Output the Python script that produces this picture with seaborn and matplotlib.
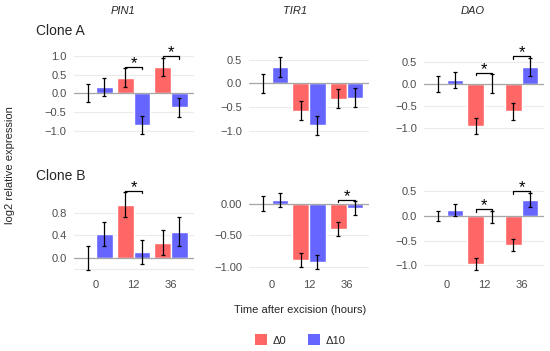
import numpy as np
import pandas as pd
import matplotlib
matplotlib.use("Agg")
import matplotlib.pyplot as plt
import seaborn as sns
from matplotlib.patches import Patch

sns.set_style("white")
plt.rcParams['font.family'] = ['Liberation Sans', 'DejaVu Sans']

# ---- data ----
genes = ['PIN1', 'TIR1', 'DAO']
clones = ['Clone A', 'Clone B']
times = ['0', '12', '36']
lines = ['Δ0', 'Δ10']

# rows: PIN1, TIR1, DAO ; cols: 0, 12, 36 h
clone_a_d0 = [[0.00, 0.42, 0.70], [0.00, -0.58, -0.32], [0.00, -0.95, -0.62]]
clone_a_d10 = [[0.18, -0.86, -0.38], [0.34, -0.88, -0.30], [0.09, 0.01, 0.39]]
clone_a_d0_err = [[0.24, 0.245, 0.25], [0.20, 0.20, 0.20], [0.19, 0.19, 0.19]]
clone_a_d10_err = [[0.24, 0.24, 0.25], [0.21, 0.20, 0.20], [0.19, 0.21, 0.20]]

clone_b_d0 = [[0.00, 0.94, 0.27], [0.00, -0.89, -0.40], [0.00, -0.97, -0.59]]
clone_b_d10 = [[0.42, 0.10, 0.46], [0.06, -0.93, -0.075], [0.13, -0.02, 0.33]]
clone_b_d0_err = [[0.21, 0.22, 0.22], [0.115, 0.115, 0.11], [0.11, 0.12, 0.12]]
clone_b_d10_err = [[0.21, 0.21, 0.26], [0.11, 0.11, 0.11], [0.12, 0.13, 0.14]]

# significant Δ0 vs Δ10 comparisons: (clone, gene, time)
significant = [('Clone A', 'PIN1', '12'), ('Clone A', 'PIN1', '36'),
               ('Clone A', 'DAO', '12'), ('Clone A', 'DAO', '36'),
               ('Clone B', 'PIN1', '12'), ('Clone B', 'TIR1', '36'),
               ('Clone B', 'DAO', '12'), ('Clone B', 'DAO', '36')]

# axis ranges and ticks per panel
ylims = {('Clone A', 'PIN1'): (-1.225, 1.32), ('Clone A', 'TIR1'): (-1.173, 0.83),
         ('Clone A', 'DAO'): (-1.242, 0.903), ('Clone B', 'PIN1'): (-0.272, 1.417),
         ('Clone B', 'TIR1'): (-1.10, 0.408), ('Clone B', 'DAO'): (-1.156, 0.771)}
yticks = {('Clone A', 'PIN1'): [-1.0, -0.5, 0.0, 0.5, 1.0],
          ('Clone A', 'TIR1'): [-1.0, -0.5, 0.0, 0.5],
          ('Clone A', 'DAO'): [-1.0, -0.5, 0.0, 0.5],
          ('Clone B', 'PIN1'): [0.0, 0.4, 0.8],
          ('Clone B', 'TIR1'): [-1.0, -0.5, 0.0],
          ('Clone B', 'DAO'): [-1.0, -0.5, 0.0, 0.5]}
ytick_fmt = {('Clone B', 'TIR1'): '{:.2f}'}

colors = {'Δ0': '#FF6666', 'Δ10': '#6666FF'}

# long-form table
means = {'Clone A': (clone_a_d0, clone_a_d10), 'Clone B': (clone_b_d0, clone_b_d10)}
errs = {'Clone A': (clone_a_d0_err, clone_a_d10_err), 'Clone B': (clone_b_d0_err, clone_b_d10_err)}
rows = []
for clone in clones:
    for li, line in enumerate(lines):
        for gi, gene in enumerate(genes):
            for ti, t in enumerate(times):
                rows.append(dict(clone=clone, gene=gene, line=line, time=t,
                                 value=means[clone][li][gi][ti],
                                 err=errs[clone][li][gi][ti]))
df = pd.DataFrame(rows)

# ---- figure ----
W, H = 550, 351
fig = plt.figure(figsize=(W / 100, H / 100), dpi=100)

col_left = [73.5, 249, 424]
row_top = [44, 178]
pw, ph = 120, 95

tick_color = '#4D4D4D'

for r, clone in enumerate(clones):
    for c, gene in enumerate(genes):
        ax = fig.add_axes([col_left[c] / W, 1 - (row_top[r] + ph) / H, pw / W, ph / H])
        sub = df[(df.clone == clone) & (df.gene == gene)]
        sns.barplot(data=sub, x='time', y='value', hue='line', order=times,
                    hue_order=lines, palette=colors, width=0.9, saturation=1,
                    errorbar=None, legend=False, ax=ax, zorder=2)
        ax.set_xlim(-0.6, 2.6)
        y0, y1 = ylims[(clone, gene)]
        ax.set_ylim(y0, y1)
        px = (y1 - y0) / ph  # data units per pixel

        # error bars from bar centers
        tops = {}
        for li, line in enumerate(lines):
            d = sub[sub.line == line].set_index('time').loc[times]
            xs = [b.get_x() + b.get_width() / 2 for b in ax.containers[li]]
            ax.errorbar(xs, d['value'], yerr=d['err'], fmt='none', ecolor='black',
                        elinewidth=0.9, capsize=1.6, capthick=0.9, zorder=4)
            for ti, t in enumerate(times):
                tops[(line, t)] = (xs[ti], d['value'].iloc[ti] + d['err'].iloc[ti])

        ax.axhline(0, color='#A6A6A6', lw=0.9, zorder=3)

        # significance brackets
        for (sc, sg, st) in significant:
            if sc != clone or sg != gene:
                continue
            xa, ta = tops[('Δ0', st)]
            xb, tb = tops[('Δ10', st)]
            yb = max(ta, tb) + 1.5 * px
            tip = 2.5 * px
            ax.plot([xa, xa, xb, xb], [yb - tip, yb, yb, yb - tip], color='black',
                    lw=0.9, clip_on=False, zorder=5)
            ax.text((xa + xb) / 2, yb - 1.0 * px, '*', ha='center', va='baseline',
                    fontsize=12, color='black', clip_on=False)

        ticks = yticks[(clone, gene)]
        fmt = ytick_fmt.get((clone, gene), '{:.1f}')
        ax.set_yticks(ticks)
        ax.set_yticklabels([fmt.format(v).replace('-', '\u2212') for v in ticks])
        if (clone, gene) == ('Clone B', 'PIN1'):
            ax.set_yticks([-0.2], minor=True)
            ax.yaxis.grid(True, which='minor', color='#EBEBEB', lw=0.8, zorder=0)
        ax.yaxis.grid(True, color='#EBEBEB', lw=0.8, zorder=0)
        ax.xaxis.grid(False)
        ax.set_axisbelow(True)
        for s in ax.spines.values():
            s.set_visible(False)
        ax.tick_params(axis='both', which='both', length=0, labelsize=8,
                       labelcolor=tick_color, pad=5)
        ax.set_xlabel('')
        ax.set_ylabel('')
        if r == 0:
            ax.set_xticklabels([])
        else:
            ax.set_xticklabels(times)

# text annotations
for gene, xc in zip(genes, [122.7, 295, 473]):
    fig.text(xc / W, 1 - 11 / H, gene, ha='center', va='center', fontsize=8,
             style='italic')
fig.text(36 / W, 1 - 31 / H, 'Clone A', ha='left', va='center', fontsize=10)
fig.text(36 / W, 1 - 176 / H, 'Clone B', ha='left', va='center', fontsize=10)
fig.text(10 / W, 1 - 165 / H, 'log2 relative expression', rotation=90,
         ha='center', va='center', fontsize=8)
fig.text(300 / W, 1 - 310 / H, 'Time after excision (hours)', ha='center',
         va='center', fontsize=8)

handles = [Patch(facecolor=colors[l], edgecolor='none', label=l) for l in lines]
fig.legend(handles=handles, loc='center', bbox_to_anchor=(300 / W, 1 - 340 / H),
           ncol=2, frameon=False, fontsize=8, handlelength=1.1, handleheight=1.1,
           handletextpad=0.45, columnspacing=2.0)

fig.savefig('out.png', dpi=100)
